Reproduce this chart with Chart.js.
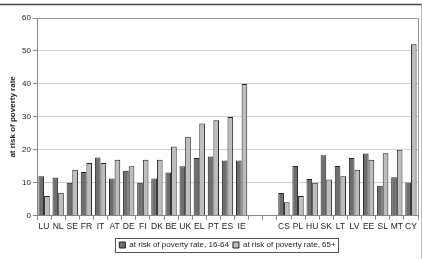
<!DOCTYPE html>
<html>
<head>
<meta charset="utf-8">
<script src="https://cdn.jsdelivr.net/npm/chart.js@4"></script>
<style>
  html, body { margin: 0; padding: 0; background: #fff; }
  #wrap { width: 423px; height: 259px; position: relative; }
</style>
</head>
<body>
<div id="wrap"><canvas id="c" width="423" height="259"></canvas></div>
<script>
const categories = ['LU','NL','SE','FR','IT','AT','DE','FI','DK','BE','UK','EL','PT','ES','IE','','','CS','PL','HU','SK','LT','LV','EE','SL','MT','CY'];
const rate1664 = [12, 11.6, 10, 13.3, 17.7, 11.3, 13.7, 10, 11.3, 13.1, 15, 17.5, 18, 16.8, 16.8, null, null, 6.9, 15.1, 11.2, 18.4, 15.1, 17.5, 18.9, 9.1, 11.7, 10.1];
const rate65 = [6, 7, 14, 16, 16, 17, 15, 17, 17, 21, 24, 28, 29, 30, 40, null, null, 4.1, 6, 10, 11, 12, 14, 17, 19, 20, 52];
const seriesNames = ['at risk of poverty rate, 16-64', 'at risk of poverty rate, 65+'];
const yTicks = [0, 10, 20, 30, 40, 50, 60];
const yTitle = 'at risk of poverty rate';

const FONT = '"Liberation Sans", Arial, sans-serif';
const TXT = '#222';

const framePlugin = {
  id: 'frame',
  afterDraw(chart) {
    const ctx = chart.ctx;
    const a = chart.chartArea;
    ctx.save();
    ctx.strokeStyle = '#999';
    ctx.lineWidth = 1;
    ctx.beginPath();
    ctx.moveTo(a.left, Math.round(a.top) + 0.5);
    ctx.lineTo(Math.round(a.right) + 0.5, Math.round(a.top) + 0.5);
    ctx.lineTo(Math.round(a.right) + 0.5, a.bottom);
    ctx.stroke();
    ctx.strokeStyle = '#444';
    ctx.lineWidth = 1.5;
    ctx.beginPath();
    ctx.moveTo(0, 4.5);
    ctx.lineTo(422, 4.5);
    ctx.stroke();
    ctx.strokeStyle = '#bbb';
    ctx.lineWidth = 1;
    ctx.beginPath();
    ctx.moveTo(421.5, 4.5);
    ctx.lineTo(421.5, 259);
    ctx.stroke();
    const lg = chart.legend;
    if (lg && lg.legendHitBoxes && lg.legendHitBoxes.length) {
      const hb = lg.legendHitBoxes;
      let l = Infinity, r = -Infinity, t = Infinity, b = -Infinity;
      hb.forEach(h => { l = Math.min(l, h.left); r = Math.max(r, h.left + h.width); t = Math.min(t, h.top); b = Math.max(b, h.top + h.height); });
      ctx.strokeStyle = '#555';
      ctx.lineWidth = 1;
      ctx.strokeRect(Math.round(l - 4) + 0.5, Math.round(t - 3) + 0.5, Math.round(r - l + 7), Math.round(b - t + 6));
    }
    ctx.restore();
  }
};

new Chart(document.getElementById('c'), {
  type: 'bar',
  data: {
    labels: categories,
    datasets: [
      { label: seriesNames[0], data: rate1664, backgroundColor: '#6e6e6e', borderColor: '#222', borderWidth: 1 },
      { label: seriesNames[1], data: rate65, backgroundColor: '#bdbdbd', borderColor: '#222', borderWidth: 1 }
    ]
  },
  options: {
    responsive: false,
    animation: false,
    devicePixelRatio: 1,
    layout: { padding: { left: 0, right: 5, top: 18, bottom: 0 } },
    datasets: { bar: { categoryPercentage: 0.8, barPercentage: 1.0 } },
    plugins: {
      legend: {
        position: 'bottom',
        fullSize: false,
        labels: { boxWidth: 6, boxHeight: 6, padding: 4, color: TXT, font: { family: FONT, size: 8 } }
      },
      tooltip: { enabled: false },
      title: { display: false }
    },
    scales: {
      x: {
        afterFit(scale) { scale.height += 3; },
        grid: { drawOnChartArea: false, drawTicks: true, offset: true, tickLength: 4, tickColor: '#888' },
        border: { color: '#888', width: 1 },
        ticks: { color: TXT, font: { family: FONT, size: 8.5 }, padding: 2, maxRotation: 0, autoSkip: false }
      },
      y: {
        min: 0, max: 60,
        afterBuildTicks(scale) { scale.ticks = yTicks.map(v => ({ value: v })); },
        afterFit(scale) { scale.width = 37; },
        grid: { color: '#d0d0d0', tickLength: 4, tickColor: '#888' },
        border: { color: '#888', width: 1 },
        ticks: { color: TXT, font: { family: FONT, size: 8 }, padding: 2 },
        title: { display: true, text: yTitle, color: TXT, font: { family: FONT, size: 8, weight: 'bold' }, padding: { top: 8, bottom: 0 } }
      }
    }
  },
  plugins: [framePlugin]
});
</script>
</body>
</html>
